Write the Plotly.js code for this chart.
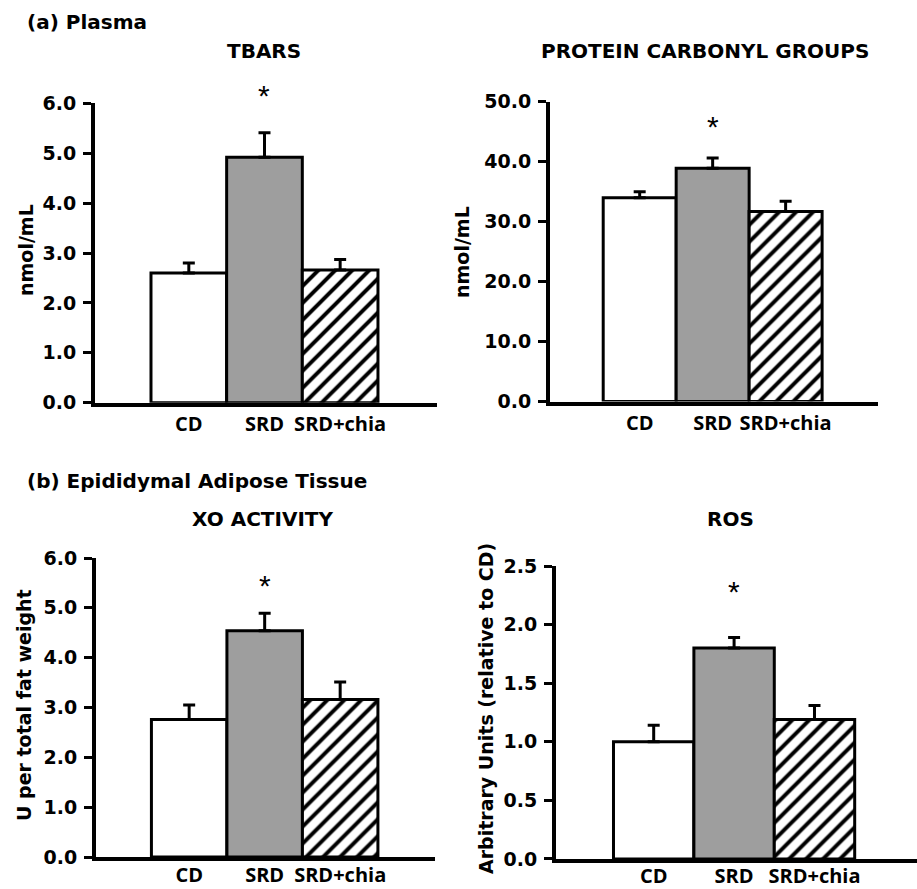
<!DOCTYPE html>
<html>
<head>
<meta charset="utf-8">
<script src="https://cdn.plot.ly/plotly-3.0.1.min.js"></script>
<style>html,body{margin:0;padding:0;background:#fff;}#chart{width:917px;height:889px;}</style>
</head>
<body>
<div id="chart"></div>
<script>
// ---- data ----
const categories = ['CD', 'SRD', 'SRD+chia'];
const tbarsMean = [2.60, 4.92, 2.66];
const tbarsErr = [0.20, 0.49, 0.21];
const carbonylMean = [34.0, 38.9, 31.7];
const carbonylErr = [1.0, 1.7, 1.7];
const xoMean = [2.76, 4.54, 3.16];
const xoErr = [0.29, 0.35, 0.35];
const rosMean = [1.00, 1.80, 1.19];
const rosErr = [0.14, 0.09, 0.12];
const significant = [false, true, false];
const sectionTitles = ['(a) Plasma', '(b) Epididymal Adipose Tissue'];
const panelTitles = ['TBARS', 'PROTEIN CARBONYL GROUPS', 'XO ACTIVITY', 'ROS'];
const yTitles = ['nmol/mL', 'nmol/mL', 'U per total fat weight', 'Arbitrary Units (relative to CD)'];

// ---- styles per group ----
const barStyles = [
  {color: '#ffffff', hatch: false},
  {color: '#9e9e9e', hatch: false},
  {color: '#ffffff', hatch: true}
];

// ---- layout helpers (pixel positions) ----
const W = 917, H = 889;
const fx = p => p / W;
const fy = p => 1 - p / H;

const panels = [
  {mean: tbarsMean, err: tbarsErr, yrange: [0, 6], dtick: 1, xrange: [-1.24, 3.28],
   xpx: [95, 437], ypx: [103.3, 402.7], title: panelTitles[0], ytitle: yTitles[0],
   titlePos: [264, 51], yTitlePos: [26, 250], starShift: 37, labelStandoff: 0},
  {mean: carbonylMean, err: carbonylErr, yrange: [0, 50], dtick: 10, xrange: [-1.229, 3.27],
   xpx: [550, 878.3], ypx: [101.7, 401.5], title: panelTitles[1], ytitle: yTitles[1],
   titlePos: [705, 51], yTitlePos: [462, 252], starShift: 32, labelStandoff: 0},
  {mean: xoMean, err: xoErr, yrange: [0, 6], dtick: 1, xrange: [-1.234, 3.256],
   xpx: [96, 435], ypx: [558, 857], title: panelTitles[2], ytitle: yTitles[2],
   titlePos: [262, 519], yTitlePos: [24, 705], starShift: 28, labelStandoff: -3},
  {mean: rosMean, err: rosErr, yrange: [0, 2.5], dtick: 0.5, xrange: [-1.215, 3.275],
   xpx: [556, 917], ypx: [566, 858.9], title: panelTitles[3], ytitle: yTitles[3],
   titlePos: [730, 519], yTitlePos: [486, 708], starShift: 46, labelStandoff: -4}
];

const boldDV = (size) => ({family: 'DejaVu Sans', size: size, color: '#000', weight: 700});

const traces = [];
const layout = {
  width: W, height: H,
  margin: {l: 0, r: 0, t: 0, b: 0},
  paper_bgcolor: '#fff', plot_bgcolor: 'rgba(0,0,0,0)',
  showlegend: false, bargap: 0, barmode: 'overlay',
  annotations: []
};

panels.forEach((p, i) => {
  const n = i === 0 ? '' : String(i + 1);
  categories.forEach((c, k) => {
    const st = barStyles[k];
    const marker = {color: st.color, opacity: 1, line: {color: '#000', width: 3}};
    if (st.hatch) {
      marker.pattern = {shape: '/', fgcolor: '#000', bgcolor: '#ffffff', size: 12, solidity: 0.33, fillmode: 'replace'};
    }
    traces.push({
      type: 'bar',
      x: [c], y: [p.mean[k]],
      xaxis: 'x' + n, yaxis: 'y' + n,
      width: 1,
      marker: marker,
      error_y: {type: 'data', symmetric: false, array: [p.err[k]], arrayminus: [0],
                color: '#000', thickness: 3, width: 6},
      hoverinfo: 'skip'
    });
  });
  layout['xaxis' + n] = {
    type: 'category', categoryorder: 'array', categoryarray: categories,
    domain: [fx(p.xpx[0]), fx(p.xpx[1])], range: p.xrange,
    anchor: 'y' + n, showline: true, linewidth: 4, linecolor: '#000',
    ticks: '', showgrid: false, zeroline: false, fixedrange: true,
    tickfont: {family: 'Open Sans', size: 20, color: '#000', weight: 700},
    ticklabelstandoff: p.labelStandoff
  };
  layout['yaxis' + n] = {
    domain: [fy(p.ypx[1]), fy(p.ypx[0])], range: p.yrange, dtick: p.dtick, tick0: 0,
    anchor: 'x' + n, showline: true, linewidth: 4, linecolor: '#000',
    ticks: 'outside', ticklen: 8, tickwidth: 3, tickcolor: '#000',
    tickformat: '.1f', showgrid: false, zeroline: false, fixedrange: true,
    tickfont: boldDV(19), ticklabelstandoff: 3
  };
  layout.annotations.push({
    xref: 'paper', yref: 'paper', x: fx(p.titlePos[0]), y: fy(p.titlePos[1]),
    xanchor: 'center', yanchor: 'middle', text: p.title, showarrow: false, font: boldDV(20)
  });
  layout.annotations.push({
    xref: 'paper', yref: 'paper', x: fx(p.yTitlePos[0]), y: fy(p.yTitlePos[1]),
    xanchor: 'center', yanchor: 'middle', textangle: -90, text: p.ytitle, showarrow: false,
    font: boldDV(19)
  });
  categories.forEach((c, k) => {
    if (significant[k]) {
      layout.annotations.push({
        xref: 'x' + n, yref: 'y' + n, x: c, y: p.mean[k] + p.err[k], yshift: p.starShift,
        xanchor: 'center', yanchor: 'middle', text: '*', showarrow: false,
        font: {family: 'Liberation Sans', size: 30, color: '#000'}
      });
    }
  });
});

layout.annotations.push({
  xref: 'paper', yref: 'paper', x: fx(25), y: fy(22), xanchor: 'left', yanchor: 'middle',
  text: sectionTitles[0], showarrow: false, font: boldDV(20)
});
layout.annotations.push({
  xref: 'paper', yref: 'paper', x: fx(25), y: fy(481), xanchor: 'left', yanchor: 'middle',
  text: sectionTitles[1], showarrow: false, font: boldDV(20)
});

Plotly.newPlot('chart', traces, layout, {staticPlot: true, displayModeBar: false});
</script>
</body>
</html>
